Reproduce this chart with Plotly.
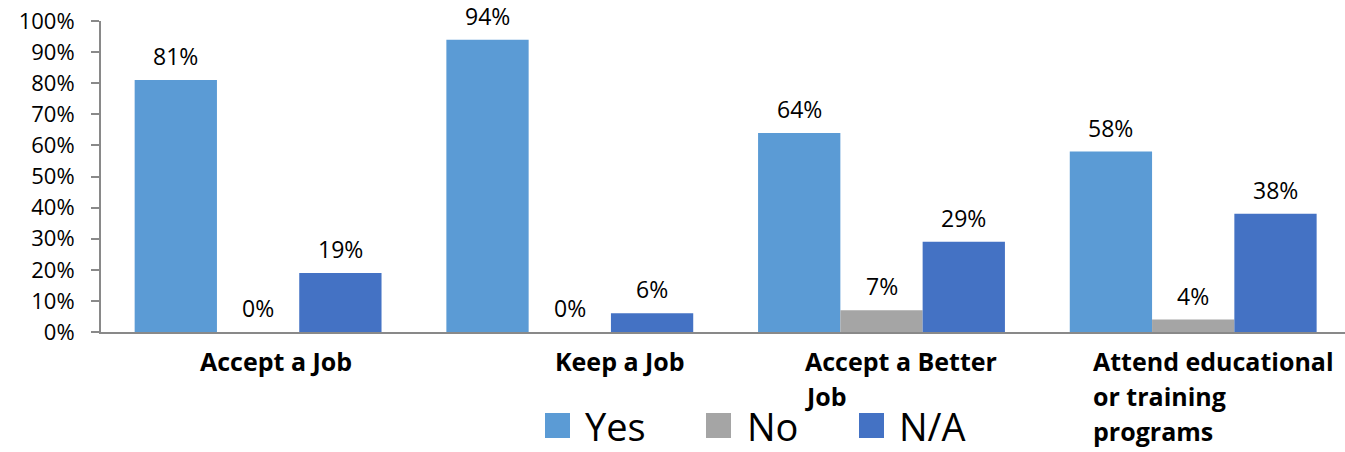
import plotly.graph_objects as go

# ---- data ----
categories = ["Accept a Job", "Keep a Job", "Accept a Better Job",
              "Attend educational or training programs"]
category_lines = [["Accept a Job"], ["Keep a Job"], ["Accept a Better", "Job"],
                  ["Attend educational", "or training", "programs"]]
series_names = ["Yes", "No", "N/A"]
yes_values = [81, 94, 64, 58]
no_values = [0, 0, 7, 4]
na_values = [19, 6, 29, 38]
y_tick_values = [0, 10, 20, 30, 40, 50, 60, 70, 80, 90, 100]
y_tick_labels = [f"{v}%" for v in y_tick_values]

# ---- style ----
colors = ["#5B9BD5", "#A5A5A5", "#4472C4"]
W, H = 1345, 452
PLOT_L, PLOT_R, PLOT_T, PLOT_B = 101, 1345, 21, 332   # page pixels
ML, MR, MT, MB = PLOT_L, W - PLOT_R, PLOT_T, H - PLOT_B
PW, PH = PLOT_R - PLOT_L, PLOT_B - PLOT_T
X_RANGE = [-0.504, 3.487]
BAR_W = 0.264
offsets = [-1.5 * BAR_W, -0.5 * BAR_W, 0.5 * BAR_W]
FONT = "Open Sans"
label_shift_px = [-60, -16.7, -78.4, -102]


def px_x(px):
    return (px - PLOT_L) / PW


def px_y(py):
    return (PLOT_B - py) / PH


series_values = [yes_values, no_values, na_values]
xs = list(range(len(categories)))

fig = go.Figure()
for name, vals, col, off in zip(series_names, series_values, colors, offsets):
    fig.add_trace(go.Bar(
        x=xs, y=vals, name=name, width=BAR_W, offset=off,
        marker=dict(color=col, line=dict(width=0)),
        showlegend=False, hovertemplate="%{y}%<extra>" + name + "</extra>",
    ))

annotations = []
# data labels
for vals, off in zip(series_values, offsets):
    for i, v in enumerate(vals):
        annotations.append(dict(
            x=i + off + BAR_W / 2, y=v, xref="x", yref="y",
            text=f"{v}%", showarrow=False, yanchor="bottom", yshift=6,
            font=dict(family=FONT, size=23, color="#000000"),
        ))

# category labels
for i, lines in enumerate(category_lines):
    for j, line in enumerate(lines):
        annotations.append(dict(
            x=i, y=px_y(361), xref="x", yref="paper",
            text=f"<b>{line}</b>", showarrow=False,
            xanchor="left", yanchor="middle",
            xshift=label_shift_px[i], yshift=-35 * j,
            font=dict(family=FONT, size=25, color="#000000"),
        ))

# legend
legend_sq_left = [545, 706, 859]
legend_text_left = [583, 745, 897]
shapes = []
for name, col, sq, tx in zip(series_names, colors, legend_sq_left, legend_text_left):
    shapes.append(dict(type="rect", xref="paper", yref="paper",
                       x0=px_x(sq), x1=px_x(sq + 25), y0=px_y(438), y1=px_y(413),
                       fillcolor=col, line=dict(width=0)))
    annotations.append(dict(
        x=px_x(tx), y=px_y(426), xref="paper", yref="paper",
        text=name, showarrow=False, xanchor="left", yanchor="middle",
        font=dict(family=FONT, size=38, color="#000000"),
    ))

fig.update_layout(
    width=W, height=H, autosize=False,
    margin=dict(l=ML, r=MR, t=MT, b=MB, pad=0),
    paper_bgcolor="white", plot_bgcolor="white",
    barmode="overlay",
    annotations=annotations, shapes=shapes,
    showlegend=False,
    xaxis=dict(range=X_RANGE, showticklabels=False,
               showgrid=False, zeroline=False, showline=True,
               linecolor="#898989", linewidth=2, ticks=""),
    yaxis=dict(range=[0, 100], tickvals=y_tick_values, ticktext=y_tick_labels,
               showgrid=False, zeroline=False, showline=True,
               linecolor="#898989", linewidth=2, ticks="outside",
               ticklen=8, tickwidth=1.5, tickcolor="#898989",
               ticklabelstandoff=12, ticklabeloverflow="allow",
               tickfont=dict(family=FONT, size=22, color="#000000")),
)

fig.write_html("out.html",
               config={"displayModeBar": False},
               post_script="document.body.style.margin='0';"
                           "document.documentElement.style.margin='0';")
